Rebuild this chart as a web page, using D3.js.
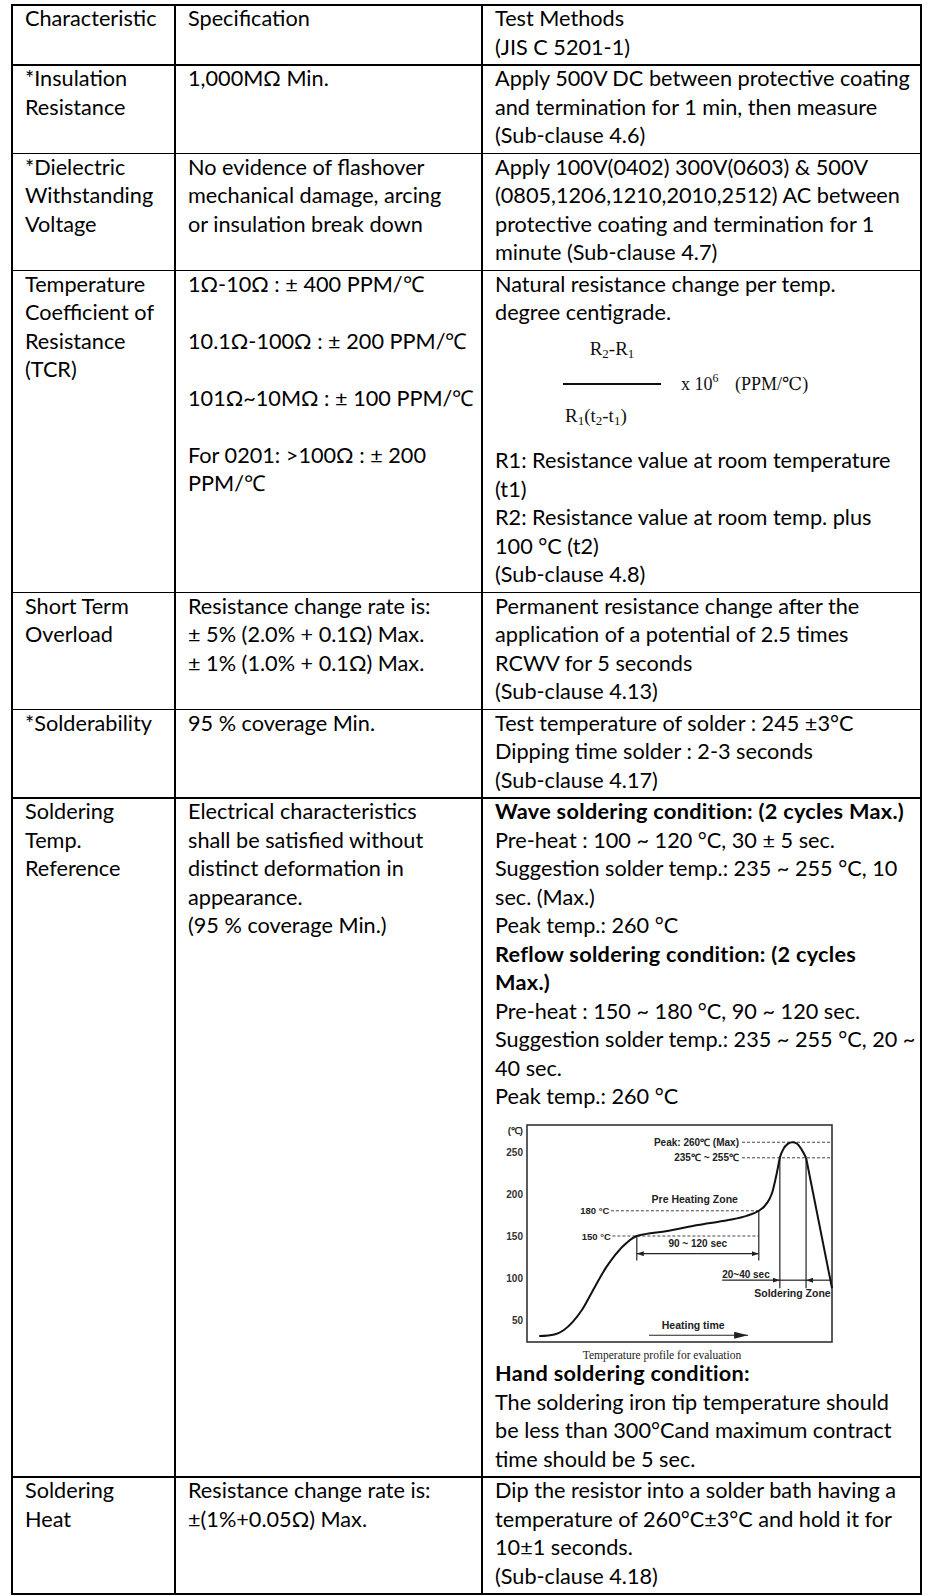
<!DOCTYPE html>
<html><head><meta charset="utf-8">
<script src="https://cdn.jsdelivr.net/npm/d3@7/dist/d3.min.js"></script>
<style>html,body{margin:0;padding:0;background:#fff}</style>
</head><body><div id="c"></div>
<script>
// ---------------- DATA ----------------
const characteristics = [
  ["Characteristic"],
  ["*Insulation","Resistance"],
  ["*Dielectric","Withstanding","Voltage"],
  ["Temperature","Coefficient of","Resistance","(TCR)"],
  ["Short Term","Overload"],
  ["*Solderability"],
  ["Soldering","Temp.","Reference"],
  ["Soldering","Heat"]
];
const specifications = [
  ["Specification"],
  ["1,000MΩ Min."],
  ["No evidence of flashover","mechanical damage, arcing","or insulation break down"],
  ["1Ω-10Ω : ± 400 PPM/℃","","10.1Ω-100Ω : ± 200 PPM/℃","","101Ω~10MΩ : ± 100 PPM/℃","","For 0201: >100Ω : ± 200","PPM/℃"],
  ["Resistance change rate is:","± 5% (2.0% + 0.1Ω) Max.","± 1% (1.0% + 0.1Ω) Max."],
  ["95 % coverage Min."],
  ["Electrical characteristics","shall be satisfied without","distinct deformation in","appearance.","(95 % coverage Min.)"],
  ["Resistance change rate is:","±(1%+0.05Ω) Max."]
];
const testMethods = [
  ["Test Methods","(JIS C 5201-1)"],
  ["Apply 500V DC between protective coating","and termination for 1 min, then measure","(Sub-clause 4.6)"],
  ["Apply 100V(0402) 300V(0603) & 500V","(0805,1206,1210,2010,2512) AC between","protective coating and termination for 1","minute (Sub-clause 4.7)"],
  ["Natural resistance change per temp.","degree centigrade.","[FORMULA]","R1: Resistance value at room temperature","(t1)","R2: Resistance value at room temp. plus","100 °C (t2)","(Sub-clause 4.8)"],
  ["Permanent resistance change after the","application of a potential of 2.5 times","RCWV for 5 seconds","(Sub-clause 4.13)"],
  ["Test temperature of solder : 245 ±3°C","Dipping time solder : 2-3 seconds","(Sub-clause 4.17)"],
  ["**Wave soldering condition: (2 cycles Max.)","Pre-heat : 100 ~ 120 °C, 30 ± 5 sec.","Suggestion solder temp.: 235 ~ 255 °C, 10","sec. (Max.)","Peak temp.: 260 °C","**Reflow soldering condition: (2 cycles","**Max.)","Pre-heat : 150 ~ 180 °C, 90 ~ 120 sec.","Suggestion solder temp.: 235 ~ 255 °C, 20 ~","40 sec.","Peak temp.: 260 °C","[CHART]","**Hand soldering condition:","The soldering iron tip temperature should","be less than 300°Cand maximum contract","time should be 5 sec."],
  ["Dip the resistor into a solder bath having a","temperature of 260°C±3°C and hold it for","10±1 seconds.","(Sub-clause 4.18)"]
];

// reflow profile chart data (time in relative units 0-100, temperature in °C)
const tempTicks = [50, 100, 150, 200, 250];
const profileTime = [4, 9, 12, 15, 18, 22, 26, 29, 33, 36, 46, 56, 66, 72, 76, 78, 79.5, 80.5, 81.5, 82.3, 82.9, 84, 85.5, 87, 88.5, 90, 91.5];
const profileTemp = [31, 33, 38, 48, 62, 88, 113, 128, 143, 150, 156, 163, 169, 174, 180, 186, 194, 203, 218, 232, 243, 253, 259.5, 261.5, 260, 253, 243];
const coolTime = [91.5, 100];
const coolTemp = [243, 88];
const peakLevel = 261.5, solderLevel = 243, preLow = 150, preHigh = 180;
const preStart = 36, preEnd = 76, zoneStart = 82.9, zoneEnd = 91.5;
const chartLabels = {
  unit: "(℃)", peak: "Peak: 260℃ (Max)", band: "235℃ ~ 255℃", preZone: "Pre Heating Zone",
  t180: "180 °C", t150: "150 °C", preTime: "90 ~ 120 sec", zoneTime: "20~40 sec",
  zone: "Soldering Zone", heating: "Heating time", caption: "Temperature profile for evaluation"
};

// ---------------- LAYOUT ----------------
const W = 933, H = 1596;
const colEdges = [12, 175, 482, 921];
const TOP = 5, LH = 28.5, PAD = 1.5, BASE = 19.5, INDENT = 13;
const FONT = "Lato, 'Open Sans', sans-serif";
const blockExtra = {"[FORMULA]": 119.5, "[CHART]": 248.5};

const svg = d3.select("#c").append("svg").attr("width", W).attr("height", H)
  .attr("viewBox", `0 0 ${W} ${H}`);

// font size fitted to the widest reference line
const meas = svg.append("text").attr("font-family", FONT).attr("font-size", 100)
  .text("Apply 500V DC between protective coating");
const w100 = meas.node().getComputedTextLength(); meas.remove();
const FS = Math.max(16, Math.min(22, 415 * 100 / w100));

const colHeight = lines => lines.reduce((h, s) => h + (blockExtra[s] || LH), 0);
const rowHeights = characteristics.map((_, i) =>
  d3.max([characteristics[i], specifications[i], testMethods[i]].map(colHeight)) + 2 * PAD);
const rowTops = [TOP];
rowHeights.forEach((h, i) => rowTops.push(rowTops[i] + h));

const defs = svg.append("defs");
function marker(id, w, h) {
  defs.append("marker").attr("id", id).attr("viewBox", `0 0 ${w} ${h}`)
    .attr("refX", w).attr("refY", h / 2).attr("markerWidth", w).attr("markerHeight", h)
    .attr("markerUnits", "userSpaceOnUse").attr("orient", "auto-start-reverse")
    .append("path").attr("d", `M0,0L${w},${h / 2}L0,${h}Z`).attr("fill", "#222");
}
marker("arr", 7, 5);
marker("arrBig", 14, 7);

const gText = svg.append("g").attr("font-family", FONT).attr("font-size", FS).attr("fill", "#000");

function subText(g, x, y, parts, size, subSize, anchor) {
  const t = g.append("text").attr("x", x).attr("y", y).attr("text-anchor", anchor || "start");
  let shifted = 0;
  parts.forEach(p => {
    const isSub = typeof p === "object";
    const dy = isSub ? (p.up ? -8 : 3) : 0;
    t.append("tspan").attr("font-size", isSub ? subSize : size).attr("dy", dy - shifted)
      .text(isSub ? p.s : p);
    shifted = dy;
  });
  return t;
}

function drawFormula(g, x0, y0) {
  const f = g.append("g").attr("font-family", "'Liberation Serif', 'DejaVu Serif', serif").attr("fill", "#111");
  subText(f, x0 + 117, y0 + 26, ["R", {s: "2"}, "-R", {s: "1"}], 19, 13, "middle");
  f.append("line").attr("x1", x0 + 68).attr("x2", x0 + 166).attr("y1", y0 + 55).attr("y2", y0 + 55)
    .attr("stroke", "#111").attr("stroke-width", 2.2);
  subText(f, x0 + 186, y0 + 61, ["x 10", {s: "6", up: true}], 18, 12);
  f.append("text").attr("x", x0 + 240).attr("y", y0 + 61).attr("font-size", 18).text("(PPM/℃)");
  subText(f, x0 + 70, y0 + 93, ["R", {s: "1"}, "(t", {s: "2"}, "-t", {s: "1"}, ")"], 19, 13);
}

function drawChart(g, top) {
  const fTop = top + 12, fBot = fTop + 217, fL = 527, fR = 832;
  const x = d3.scaleLinear().domain([0, 100]).range([fL, fR]);
  const y = d3.scaleLinear().domain([24, 282]).range([fBot, fTop]);
  const c = g.append("g").attr("font-family", "'Liberation Sans', Arial, sans-serif")
    .attr("font-size", 10).attr("font-weight", "bold").attr("fill", "#222");
  c.append("rect").attr("x", fL).attr("y", fTop).attr("width", fR - fL).attr("height", fBot - fTop)
    .attr("fill", "none").attr("stroke", "#333").attr("stroke-width", 1.6);
  const ax = c.append("g").attr("transform", `translate(${fL},0)`)
    .call(d3.axisLeft(y).tickValues(tempTicks).tickSize(0).tickPadding(4));
  ax.select(".domain").remove();
  ax.selectAll("text").attr("font-family", "'Liberation Sans', Arial, sans-serif")
    .attr("font-size", 10).attr("font-weight", "bold").attr("fill", "#333");
  c.append("text").attr("x", fL - 4).attr("y", y(271)).attr("text-anchor", "end").attr("font-size", 9.5).text(chartLabels.unit);

  const dash = (t1, t2, T) => c.append("line").attr("x1", x(t1)).attr("x2", x(t2))
    .attr("y1", y(T)).attr("y2", y(T)).attr("stroke", "#444").attr("stroke-width", 1).attr("stroke-dasharray", "3,2");
  const seg = (t1, T1, t2, T2, m) => {
    const l = c.append("line").attr("x1", x(t1)).attr("x2", x(t2)).attr("y1", y(T1)).attr("y2", y(T2))
      .attr("stroke", "#222").attr("stroke-width", 1.2);
    if (m) l.attr("marker-end", `url(#${m})`);
    return l;
  };
  // dashed reference levels
  dash(70.5, 100, peakLevel);
  dash(70.5, 100, solderLevel);
  dash(27.5, preEnd, preHigh);
  dash(28, preEnd, preLow);
  c.append("text").attr("x", x(69.5)).attr("y", y(peakLevel) + 3.5).attr("text-anchor", "end").text(chartLabels.peak);
  c.append("text").attr("x", x(69.5)).attr("y", y(solderLevel) + 3.5).attr("text-anchor", "end").text(chartLabels.band);
  c.append("text").attr("x", x(27)).attr("y", y(preHigh) + 3.5).attr("text-anchor", "end").attr("font-size", 9.5).text(chartLabels.t180);
  c.append("text").attr("x", x(27.5)).attr("y", y(preLow) + 3.5).attr("text-anchor", "end").attr("font-size", 9.5).text(chartLabels.t150);
  c.append("text").attr("x", x(55)).attr("y", y(189)).attr("text-anchor", "middle").attr("font-size", 10.5).text(chartLabels.preZone);
  // pre-heating duration
  seg(preStart, preLow, preStart, 121);
  seg(preEnd, preHigh, preEnd, 121);
  const mid = (preStart + preEnd) / 2;
  seg(mid, 129, preStart, 129, "arr");
  seg(mid, 129, preEnd, 129, "arr");
  c.append("text").attr("x", x(mid)).attr("y", y(137)).attr("text-anchor", "middle").text(chartLabels.preTime);
  // soldering zone
  seg(zoneStart, solderLevel, zoneStart, 88);
  seg(zoneEnd, solderLevel, zoneEnd, 88);
  seg(64, 97.5, zoneStart, 97.5, "arr");
  seg(zoneStart, 97.5, zoneEnd, 97.5);
  seg(100, 97.5, zoneEnd, 97.5, "arr");
  c.append("text").attr("x", x(64)).attr("y", y(100.5)).text(chartLabels.zoneTime);
  c.append("text").attr("x", x(74.5)).attr("y", y(77)).attr("font-size", 10.5).text(chartLabels.zone);
  // heating time
  c.append("text").attr("x", x(54.5)).attr("y", y(39)).attr("text-anchor", "middle").attr("font-size", 10.5).text(chartLabels.heating);
  seg(40, 32, 72.5, 32, "arrBig");
  // profile curve
  const line = d3.line().x(d => x(d[0])).y(d => y(d[1]));
  c.append("path").datum(d3.zip(profileTime, profileTemp)).attr("d", line.curve(d3.curveMonotoneX))
    .attr("fill", "none").attr("stroke", "#111").attr("stroke-width", 2);
  c.append("path").datum(d3.zip(coolTime, coolTemp)).attr("d", d3.line().x(d => x(d[0])).y(d => y(d[1])))
    .attr("fill", "none").attr("stroke", "#111").attr("stroke-width", 2);
  // caption
  g.append("text").attr("x", 662).attr("y", fBot + 17).attr("text-anchor", "middle")
    .attr("font-family", "'Liberation Serif', 'DejaVu Serif', serif").attr("font-size", 11.5).attr("fill", "#222")
    .text(chartLabels.caption);
}

[characteristics, specifications, testMethods].forEach((col, ci) => {
  col.forEach((lines, ri) => {
    let cur = rowTops[ri] + PAD;
    lines.forEach(s => {
      if (s === "[FORMULA]") { drawFormula(svg, colEdges[ci] + INDENT, cur); cur += blockExtra[s]; return; }
      if (s === "[CHART]") { drawChart(svg, cur); cur += blockExtra[s]; return; }
      if (s !== "") {
        const bold = s.startsWith("**");
        gText.append("text").attr("x", colEdges[ci] + INDENT).attr("y", cur + BASE)
          .attr("font-weight", bold ? "bold" : "normal").attr("letter-spacing", bold ? 0.3 : null)
          .text(bold ? s.slice(2) : s);
      }
      cur += LH;
    });
  });
});

// borders
const gridG = svg.append("g").attr("stroke", "#000").attr("stroke-width", 1.8).attr("shape-rendering", "crispEdges");
rowTops.forEach(yv => gridG.append("line").attr("x1", colEdges[0] - 0.9).attr("x2", colEdges[3] + 0.9).attr("y1", yv).attr("y2", yv));
colEdges.forEach(xv => gridG.append("line").attr("x1", xv).attr("x2", xv).attr("y1", rowTops[0]).attr("y2", rowTops[rowTops.length - 1]));
</script>
</body></html>
